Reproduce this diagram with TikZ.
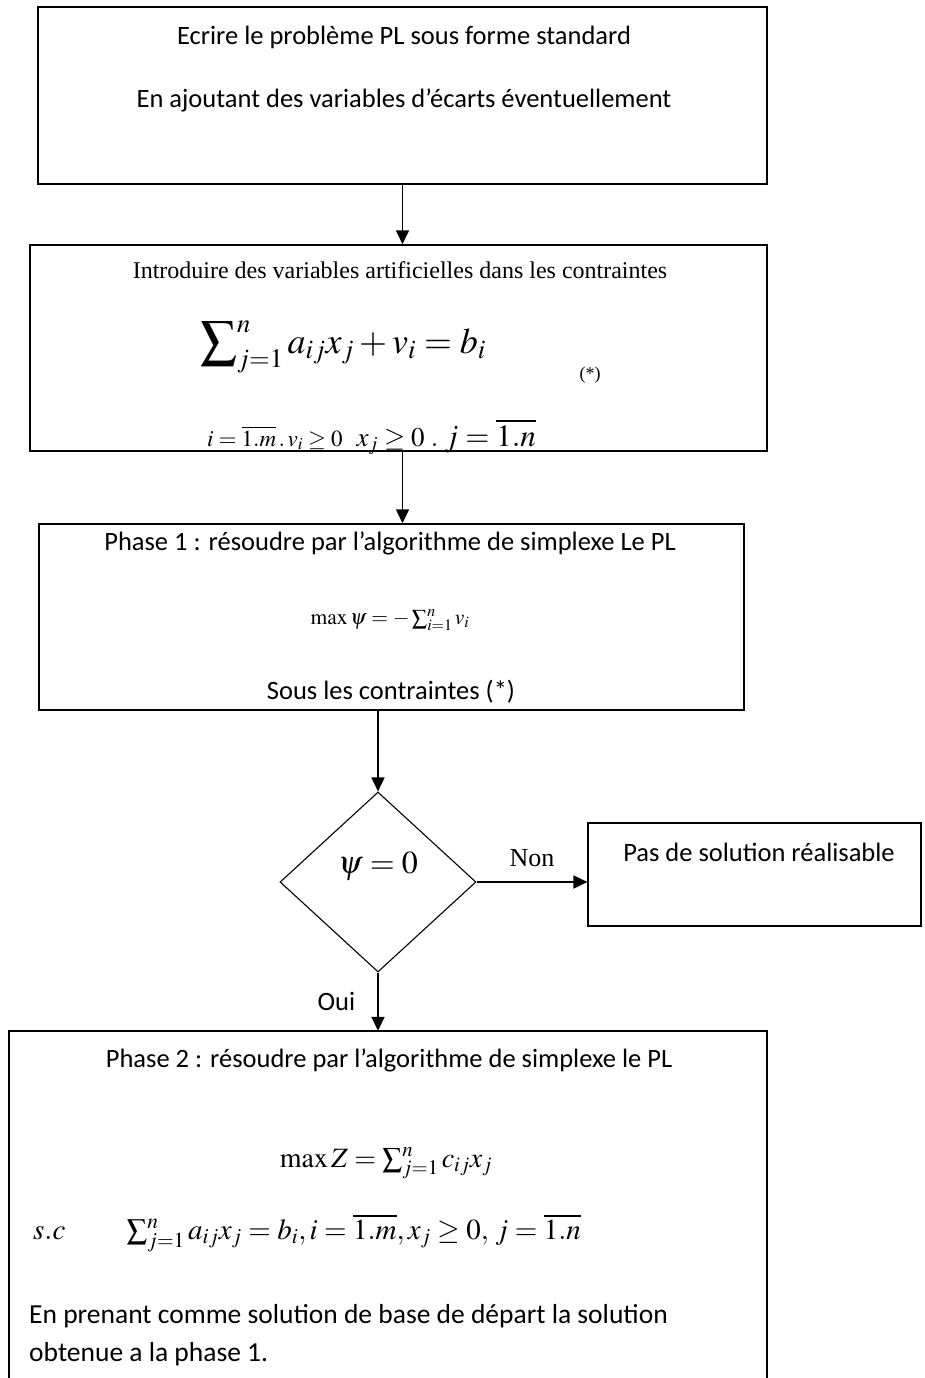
\documentclass[tikz,border=0pt]{standalone}
\usepackage{mathptmx}
\usepackage[no-math]{fontspec}
\setmainfont{Carlito}
\newfontfamily\tnr{Liberation Serif}
\usetikzlibrary{shapes.geometric,arrows.meta}

\tikzset{
  box/.style={draw, line width=1.5pt, inner sep=0pt, rectangle},
  arr/.style={line width=1.6pt, -{Triangle[length=14pt,width=13pt]}},
  cal/.style={font=\fontsize{26.5}{31}\selectfont, inner sep=0pt},
  tms/.style={font=\tnr\fontsize{24}{28}\selectfont, inner sep=0pt},
  eq/.style={inner sep=0pt},
}

\begin{document}
\begin{tikzpicture}[x=1pt, y=-1pt]
\useasboundingbox (0,0) rectangle (924,1378);
\clip (0,0) rectangle (924,1378);

% step 1: standard form
\node[box, minimum width=729pt, minimum height=177pt] (box1) at (402.5,95.5) {};
\node[cal] (t1a) at (404,37) {Ecrire le problème PL sous forme standard};
\node[cal] (t1b) at (404,100) {En ajoutant des variables d’écarts éventuellement};

% step 2: artificial variables
\node[box, minimum width=737pt, minimum height=206pt] (box2) at (398.5,348) {};
\node[tms] (t2a) at (400,270) {Introduire des variables artificielles dans les contraintes};
\node[eq, font=\fontsize{36}{42}\selectfont] (t2b) at (343,347)
  {$\displaystyle\sum\nolimits_{j=1}^{n} a_{ij}x_{j} + v_{i} = b_{i}$};
\node[tms, font=\tnr\fontsize{18}{21}\selectfont] (star) at (590,375) {(*)};
\node[eq, anchor=base west] (t2c) at (207,446)
  {{\fontsize{23}{27}\selectfont $i=\overline{1.m}\,.\,v_{i}\ge 0$}\hspace{14pt}%
   {\fontsize{27}{31}\selectfont $x_{j}\ge 0\ .\ $}%
   {\fontsize{31}{35}\selectfont $j=\overline{1.n}$}};

% step 3: phase 1
\node[box, minimum width=705pt, minimum height=186pt] (box3) at (391.5,617) {};
\node[cal] (t3a) at (390,543) {Phase 1 : résoudre par l’algorithme de simplexe Le PL};
\node[eq, font=\fontsize{21.5}{26}\selectfont] (t3b) at (390,620)
  {$\max\psi = -\sum\nolimits_{i=1}^{n} v_{i}$};
\node[cal] (t3c) at (391,692) {Sous les contraintes (*)};

% decision
\node[draw, line width=1.1pt, shape=diamond, aspect=1.089, inner sep=0pt,
      minimum width=196pt, minimum height=180pt] (dia) at (378,882) {};
\node[eq, font=\fontsize{32}{38}\selectfont] (t4) at (378,866) {$\psi = 0$};

% infeasible
\node[box, line width=1.1pt, minimum width=333pt, minimum height=103pt] (box4) at (754.5,874.5) {};
\node[cal] (t5) at (759,852) {Pas de solution réalisable};

% step 4: phase 2 (box open at the bottom)
\node[minimum width=758pt, minimum height=380pt, inner sep=0pt] (box5) at (388,1221) {};
\draw[line width=1.5pt] (box5.south west) -- (box5.north west) -- (box5.north east) -- (box5.south east);
\node[cal] (t6a) at (389,1060) {Phase 2 : résoudre par l’algorithme de simplexe le PL};
\node[eq, font=\fontsize{28}{34}\selectfont] (t6b) at (386,1163)
  {$\max Z = \sum\nolimits_{j=1}^{n} c_{ij}x_{j}$};
\node[eq, anchor=west, font=\fontsize{29}{34}\selectfont] (t6c) at (33,1233)
  {$s.c\qquad \sum\nolimits_{j=1}^{n} a_{ij}x_{j} = b_{i}, i=\overline{1.m}, x_{j}\ge 0,\, j=\overline{1.n}$};
\node[cal, anchor=base west, font=\fontsize{27.5}{32}\selectfont] (t6d) at (29,1323)
  {En prenant comme solution de base de départ la solution};
\node[cal, anchor=base west, font=\fontsize{27.5}{32}\selectfont] (t6e) at (29,1361)
  {obtenue a la phase 1.};

% connectors
\draw[arr] (box1.south) -- (box1.south |- box2.north);
\draw[arr] (box2.south -| box1.south) -- (box3.north -| box1.south);
\draw[arr] (box3.south -| dia.north) -- (dia.north);
\draw[arr] (dia.east) -- (box4.west |- dia.east)
  node[midway, above=14pt, tms, font=\tnr\fontsize{26}{30}\selectfont] (non) {Non};
\draw[arr] (dia.south) -- (dia.south |- box5.north)
  node[midway, left=22pt, cal] (oui) {Oui};
\end{tikzpicture}
\end{document}
